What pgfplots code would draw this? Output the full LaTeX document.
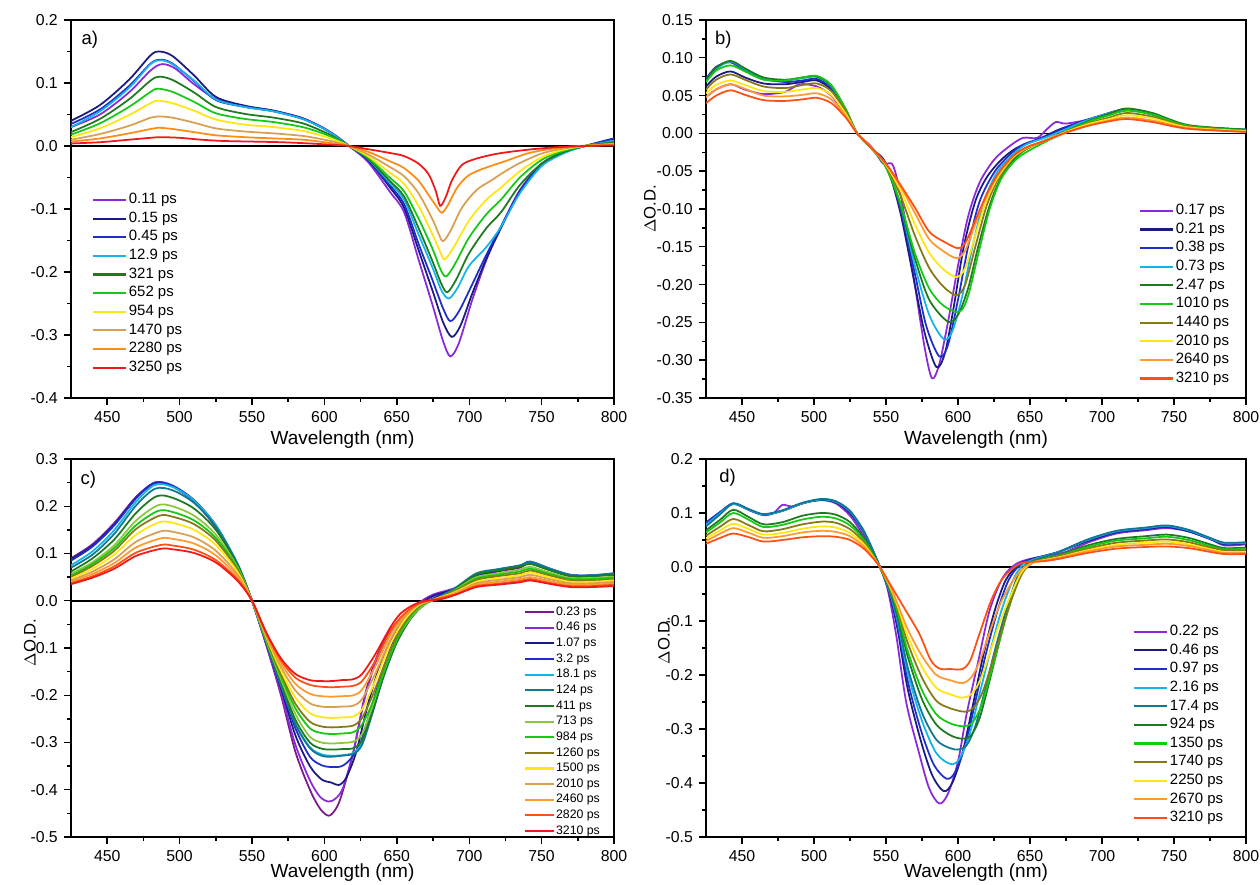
\documentclass[border=0pt]{standalone}
\usepackage{fontspec}
\setmainfont{Liberation Sans}
\usepackage{pgfplots}
\pgfplotsset{compat=1.18}

\definecolor{cPurple}{HTML}{8C28DC}
\definecolor{cPlum}{HTML}{7A1A8A}
\definecolor{cNavy}{HTML}{1A1A80}
\definecolor{cBlue}{HTML}{1E2EC8}
\definecolor{cCyan}{HTML}{14B4E6}
\definecolor{cTeal}{HTML}{107890}
\definecolor{cDkGreen}{HTML}{1E7A1E}
\definecolor{cGreen}{HTML}{14C814}
\definecolor{cYG}{HTML}{8CC83C}
\definecolor{cOlive}{HTML}{857A14}
\definecolor{cYellow}{HTML}{FFE610}
\definecolor{cTan}{HTML}{D8A050}
\definecolor{cOrange}{HTML}{FF8C14}
\definecolor{cOrange2}{HTML}{FF9A30}
\definecolor{cRedOr}{HTML}{FF5014}
\definecolor{cRed}{HTML}{F01818}

\tikzset{plabel/.style={anchor=west, inner sep=0pt, font=\fontsize{10.5}{12}\selectfont}}

\pgfplotsset{
  panel/.style={
    scale only axis,
    xmin=425, xmax=800,
    xtick={450,500,550,600,650,700,750,800},
    minor x tick num=1,
    minor y tick num=1,
    tick align=outside,
    tick pos=left,
    major tick length=0.14cm,
    minor tick length=0.08cm,
    axis line style={line width=0.8pt},
    every tick/.style={black, line width=0.8pt},
    tick label style={font=\fontsize{9}{10}\selectfont},
    xlabel={Wavelength (nm)},
    xlabel style={font=\fontsize{10.8}{12}\selectfont, at={(rel axis cs:0.5,0)}, anchor=center, yshift=-0.84cm},
    ylabel style={font=\fontsize{9.5}{11}\selectfont},
    legend style={draw=none, fill=none, anchor=north west,
      font=\fontsize{8.5}{10}\selectfont, row sep=2.5pt, column sep=0.04cm,
      nodes={inner sep=0pt, text height=6.2pt, text depth=1.9pt}},
    legend cell align=left,
    legend image code/.code={\draw[##1, line width=1.2pt] (0cm,0cm) -- (0.66cm,0cm);},
    every axis plot/.append style={line width=1pt, smooth},
    /pgf/number format/assume math mode=true,
  },
}

\begin{document}
\begin{tikzpicture}

% ---------------- a) ----------------
\begin{axis}[panel, at={(1.42cm,9.74cm)}, anchor=south west,
  width=10.86cm, height=7.56cm,
  ymin=-0.4, ymax=0.2,
  ytick={-0.4,-0.3,-0.2,-0.1,0,0.1,0.2},
  yticklabels={-0.4,-0.3,-0.2,-0.1,0.0,0.1,0.2},
  legend style={at={(0.028,0.553)}}]
\addplot[black, line width=0.9pt, forget plot] coordinates {(425,0) (800,0)};
\addplot[cPurple] coordinates {(425,0.030)(445,0.050)(465,0.085)(480,0.120)(488,0.130)(497,0.123)(510,0.098)(525,0.075)(545,0.063)(565,0.056)(585,0.044)(600,0.028)(610,0.013)(617,0.0)(630,-0.025)(645,-0.072)(655,-0.105)(665,-0.180)(675,-0.255)(682,-0.310)(687,-0.334)(693,-0.312)(702,-0.245)(712,-0.180)(722,-0.128)(735,-0.070)(750,-0.028)(765,-0.010)(780,0.0)(800,0.008)};
\addlegendentry{0.11 ps}
\addplot[cNavy] coordinates {(425,0.040)(445,0.065)(465,0.105)(480,0.144)(486,0.150)(495,0.143)(510,0.112)(525,0.078)(545,0.064)(565,0.056)(585,0.044)(600,0.027)(610,0.012)(617,0.0)(630,-0.022)(645,-0.065)(655,-0.098)(665,-0.165)(675,-0.232)(682,-0.280)(688,-0.303)(694,-0.285)(702,-0.235)(712,-0.178)(722,-0.130)(735,-0.072)(750,-0.030)(765,-0.010)(780,0.0)(800,0.012)};
\addlegendentry{0.15 ps}
\addplot[cBlue] coordinates {(425,0.035)(445,0.058)(465,0.095)(480,0.131)(487,0.137)(495,0.131)(510,0.103)(525,0.073)(545,0.062)(565,0.055)(585,0.043)(600,0.027)(610,0.012)(617,0.0)(630,-0.022)(645,-0.062)(655,-0.092)(665,-0.155)(675,-0.215)(682,-0.258)(687,-0.278)(693,-0.262)(702,-0.220)(712,-0.172)(722,-0.128)(735,-0.072)(750,-0.030)(765,-0.010)(780,0.0)(800,0.012)};
\addlegendentry{0.45 ps}
\addplot[cCyan] coordinates {(425,0.030)(445,0.055)(465,0.092)(480,0.130)(487,0.136)(495,0.130)(510,0.104)(525,0.074)(545,0.062)(565,0.055)(585,0.043)(600,0.027)(610,0.012)(617,0.0)(630,-0.020)(645,-0.058)(655,-0.085)(665,-0.140)(675,-0.195)(681,-0.230)(686,-0.242)(692,-0.225)(700,-0.190)(712,-0.160)(722,-0.128)(735,-0.075)(750,-0.032)(765,-0.012)(780,0.0)(800,0.008)};
\addlegendentry{12.9 ps}
\addplot[cDkGreen] coordinates {(425,0.022)(445,0.043)(465,0.074)(480,0.104)(486,0.110)(495,0.105)(510,0.085)(525,0.062)(545,0.051)(565,0.045)(585,0.036)(600,0.022)(610,0.010)(617,0.0)(630,-0.020)(645,-0.055)(655,-0.080)(665,-0.130)(675,-0.185)(681,-0.220)(685,-0.232)(691,-0.212)(700,-0.170)(712,-0.130)(722,-0.105)(735,-0.062)(750,-0.028)(765,-0.010)(780,0.0)(800,0.006)};
\addlegendentry{321 ps}
\addplot[cGreen] coordinates {(425,0.018)(445,0.036)(465,0.062)(480,0.086)(485,0.091)(495,0.086)(510,0.070)(525,0.052)(545,0.043)(565,0.038)(585,0.030)(600,0.019)(610,0.009)(617,0.0)(630,-0.018)(645,-0.050)(655,-0.072)(665,-0.115)(675,-0.165)(680,-0.195)(684,-0.207)(690,-0.188)(700,-0.145)(712,-0.108)(722,-0.085)(735,-0.050)(750,-0.022)(765,-0.008)(780,0.0)(800,0.004)};
\addlegendentry{652 ps}
\addplot[cYellow] coordinates {(425,0.014)(445,0.028)(465,0.049)(480,0.068)(485,0.072)(495,0.068)(510,0.056)(525,0.042)(545,0.034)(565,0.030)(585,0.024)(600,0.015)(610,0.007)(617,0.0)(630,-0.016)(645,-0.042)(655,-0.060)(665,-0.095)(675,-0.142)(680,-0.168)(683,-0.180)(689,-0.162)(700,-0.118)(712,-0.085)(722,-0.066)(735,-0.040)(750,-0.018)(765,-0.006)(780,0.0)(800,0.003)};
\addlegendentry{954 ps}
\addplot[cTan] coordinates {(425,0.010)(445,0.019)(465,0.032)(480,0.045)(485,0.047)(495,0.045)(510,0.037)(525,0.028)(545,0.023)(565,0.020)(585,0.016)(600,0.010)(610,0.005)(617,0.0)(630,-0.013)(645,-0.033)(655,-0.048)(665,-0.075)(675,-0.118)(679,-0.140)(682,-0.151)(687,-0.135)(695,-0.098)(705,-0.070)(715,-0.055)(725,-0.040)(735,-0.027)(750,-0.012)(765,-0.004)(780,0.0)(800,0.002)};
\addlegendentry{1470 ps}
\addplot[cOrange] coordinates {(425,0.007)(445,0.012)(465,0.020)(480,0.027)(485,0.029)(495,0.027)(510,0.022)(525,0.017)(545,0.014)(565,0.012)(585,0.010)(600,0.006)(610,0.003)(617,0.0)(630,-0.009)(645,-0.024)(655,-0.035)(665,-0.055)(672,-0.078)(678,-0.098)(681,-0.106)(685,-0.095)(692,-0.065)(700,-0.046)(712,-0.034)(725,-0.024)(740,-0.012)(755,-0.005)(775,0.0)(800,0.002)};
\addlegendentry{2280 ps}
\addplot[cRed] coordinates {(425,0.004)(445,0.006)(465,0.010)(480,0.013)(487,0.014)(500,0.013)(515,0.010)(530,0.008)(550,0.007)(570,0.006)(590,0.004)(605,0.002)(617,0.0)(630,-0.005)(645,-0.011)(655,-0.016)(665,-0.028)(672,-0.045)(677,-0.072)(680,-0.095)(684,-0.080)(688,-0.055)(695,-0.030)(705,-0.020)(720,-0.012)(740,-0.006)(760,-0.002)(780,0.0)(800,0.001)};
\addlegendentry{3250 ps}
\node[plabel] at (rel axis cs:0.019,0.947) {a)};
\end{axis}

% ---------------- b) ----------------
\begin{axis}[panel, at={(14.12cm,9.74cm)}, anchor=south west,
  width=10.8cm, height=7.56cm,
  ymin=-0.35, ymax=0.15,
  ytick={-0.35,-0.3,-0.25,-0.2,-0.15,-0.1,-0.05,0,0.05,0.1,0.15},
  yticklabels={-0.35,-0.30,-0.25,-0.20,-0.15,-0.10,-0.05,0.00,0.05,0.10,0.15},
  ylabel={$\Delta$O.D.}, ylabel style={at={(rel axis cs:-0.104,0.5)}, anchor=center},
  legend style={at={(0.791,0.524)}}]
\addplot[black, line width=0.9pt, forget plot] coordinates {(425,0) (800,0)};
\addplot[cPurple] coordinates {(425,0.048)(432,0.058)(442,0.065)(452,0.058)(465,0.052)(480,0.055)(490,0.065)(502,0.062)(512,0.050)(522,0.025)(530,0.0)(540,-0.018)(548,-0.040)(555,-0.043)(562,-0.100)(570,-0.200)(577,-0.285)(582,-0.324)(587,-0.305)(593,-0.250)(600,-0.175)(607,-0.110)(615,-0.065)(625,-0.035)(635,-0.018)(645,-0.006)(655,-0.006)(662,0.006)(668,0.015)(675,0.013)(690,0.018)(705,0.025)(717,0.032)(735,0.025)(760,0.010)(800,0.004)};
\addlegendentry{0.17 ps}
\addplot[cNavy] coordinates {(425,0.062)(432,0.075)(442,0.082)(452,0.074)(465,0.066)(480,0.065)(492,0.068)(502,0.070)(512,0.058)(522,0.030)(530,0.0)(540,-0.020)(550,-0.040)(560,-0.105)(570,-0.200)(577,-0.265)(585,-0.309)(591,-0.290)(597,-0.230)(604,-0.150)(612,-0.090)(620,-0.058)(630,-0.035)(640,-0.020)(650,-0.012)(660,-0.004)(670,0.005)(685,0.015)(700,0.024)(717,0.032)(735,0.025)(760,0.010)(800,0.005)};
\addlegendentry{0.21 ps}
\addplot[cBlue] coordinates {(425,0.072)(432,0.088)(442,0.094)(452,0.083)(465,0.072)(480,0.068)(492,0.070)(502,0.072)(512,0.060)(522,0.030)(530,0.0)(540,-0.020)(550,-0.042)(560,-0.100)(570,-0.185)(578,-0.255)(587,-0.295)(593,-0.280)(600,-0.220)(607,-0.150)(615,-0.090)(625,-0.052)(635,-0.030)(645,-0.015)(660,-0.005)(670,0.004)(685,0.015)(700,0.024)(717,0.032)(735,0.025)(760,0.010)(800,0.005)};
\addlegendentry{0.38 ps}
\addplot[cCyan] coordinates {(425,0.068)(432,0.085)(442,0.095)(452,0.085)(465,0.073)(480,0.070)(492,0.073)(502,0.075)(512,0.062)(522,0.031)(530,0.0)(540,-0.020)(550,-0.042)(560,-0.095)(570,-0.175)(580,-0.240)(590,-0.272)(596,-0.262)(603,-0.215)(610,-0.150)(618,-0.090)(627,-0.052)(637,-0.030)(647,-0.015)(660,-0.006)(672,0.003)(685,0.014)(700,0.024)(717,0.031)(735,0.025)(760,0.010)(800,0.005)};
\addlegendentry{0.73 ps}
\addplot[cDkGreen] coordinates {(425,0.070)(432,0.087)(442,0.096)(452,0.086)(465,0.074)(480,0.071)(492,0.074)(502,0.075)(512,0.063)(522,0.032)(530,0.0)(540,-0.020)(550,-0.045)(560,-0.095)(570,-0.165)(580,-0.220)(593,-0.249)(600,-0.240)(607,-0.205)(614,-0.150)(622,-0.095)(630,-0.058)(640,-0.032)(650,-0.018)(662,-0.008)(675,0.003)(690,0.016)(705,0.026)(717,0.033)(735,0.027)(760,0.011)(800,0.005)};
\addlegendentry{2.47 ps}
\addplot[cGreen] coordinates {(425,0.068)(432,0.083)(442,0.090)(452,0.082)(465,0.071)(480,0.070)(492,0.074)(502,0.076)(512,0.064)(522,0.032)(530,0.0)(540,-0.020)(550,-0.045)(560,-0.092)(570,-0.158)(580,-0.205)(590,-0.228)(601,-0.236)(607,-0.215)(614,-0.160)(622,-0.100)(630,-0.060)(640,-0.035)(650,-0.022)(662,-0.010)(675,0.002)(690,0.015)(705,0.024)(717,0.030)(735,0.025)(760,0.010)(800,0.004)};
\addlegendentry{1010 ps}
\addplot[cOlive] coordinates {(425,0.058)(432,0.071)(442,0.078)(452,0.071)(465,0.062)(480,0.060)(492,0.064)(502,0.066)(512,0.056)(522,0.029)(530,0.0)(540,-0.020)(550,-0.043)(560,-0.082)(570,-0.135)(580,-0.178)(590,-0.203)(599,-0.214)(605,-0.200)(612,-0.150)(620,-0.095)(628,-0.060)(638,-0.033)(648,-0.020)(660,-0.010)(675,0.002)(690,0.013)(705,0.021)(717,0.027)(735,0.022)(760,0.009)(800,0.003)};
\addlegendentry{1440 ps}
\addplot[cYellow] coordinates {(425,0.053)(432,0.064)(442,0.070)(452,0.064)(465,0.056)(480,0.055)(492,0.058)(502,0.060)(512,0.051)(522,0.026)(530,0.0)(540,-0.019)(550,-0.042)(560,-0.075)(570,-0.120)(580,-0.158)(590,-0.180)(599,-0.190)(605,-0.178)(612,-0.135)(620,-0.088)(628,-0.057)(638,-0.032)(648,-0.019)(660,-0.010)(675,0.002)(690,0.012)(705,0.019)(717,0.024)(735,0.020)(760,0.008)(800,0.003)};
\addlegendentry{2010 ps}
\addplot[cOrange2] coordinates {(425,0.048)(432,0.058)(442,0.065)(452,0.059)(465,0.050)(480,0.049)(492,0.051)(502,0.053)(512,0.045)(522,0.023)(530,0.0)(540,-0.019)(550,-0.041)(560,-0.070)(570,-0.105)(580,-0.140)(590,-0.156)(599,-0.165)(605,-0.155)(612,-0.120)(620,-0.082)(628,-0.054)(638,-0.031)(648,-0.018)(660,-0.010)(675,0.001)(690,0.010)(705,0.017)(717,0.021)(735,0.017)(760,0.007)(800,0.002)};
\addlegendentry{2640 ps}
\addplot[cRedOr] coordinates {(425,0.040)(432,0.050)(442,0.057)(452,0.051)(465,0.044)(480,0.043)(492,0.045)(502,0.047)(512,0.040)(522,0.021)(530,0.0)(540,-0.019)(550,-0.040)(560,-0.068)(570,-0.098)(580,-0.130)(590,-0.143)(600,-0.152)(605,-0.145)(612,-0.115)(620,-0.080)(628,-0.053)(638,-0.030)(648,-0.018)(660,-0.010)(675,0.001)(690,0.010)(705,0.016)(717,0.019)(735,0.015)(760,0.006)(800,0.002)};
\addlegendentry{3210 ps}
\node[plabel] at (rel axis cs:0.016,0.947) {b)};
\end{axis}

% ---------------- c) ----------------
\begin{axis}[panel, at={(1.42cm,0.96cm)}, anchor=south west,
  width=10.86cm, height=7.56cm,
  ymin=-0.5, ymax=0.3,
  ytick={-0.5,-0.4,-0.3,-0.2,-0.1,0,0.1,0.2,0.3},
  yticklabels={-0.5,-0.4,-0.3,-0.2,-0.1,0.0,0.1,0.2,0.3},
  xlabel style={yshift=0.12cm},
  ylabel={$\Delta$O.D.}, ylabel style={at={(rel axis cs:-0.0755,0.515)}, anchor=center},
  legend style={at={(0.823,0.621)}, font=\fontsize{7}{8}\selectfont, row sep=2.1pt, column sep=0.03cm,
    nodes={inner sep=0pt, text height=5.2pt, text depth=1.6pt}},
  legend image code/.code={\draw[#1, line width=1.2pt] (0cm,0cm) -- (0.58cm,0cm);}]
\addplot[black, line width=0.9pt, forget plot] coordinates {(425,0) (800,0)};
\addplot[cPlum] coordinates {(425,0.090)(440,0.120)(455,0.165)(470,0.220)(483,0.250)(495,0.242)(510,0.210)(525,0.155)(540,0.075)(550,0.0)(560,-0.095)(570,-0.200)(580,-0.320)(590,-0.400)(597,-0.440)(603,-0.455)(608,-0.440)(612,-0.410)(620,-0.320)(628,-0.200)(636,-0.120)(645,-0.065)(655,-0.030)(665,-0.006)(675,0.012)(690,0.025)(705,0.050)(720,0.062)(735,0.070)(742,0.080)(755,0.066)(770,0.052)(785,0.052)(800,0.056)};
\addlegendentry{0.23 ps}
\addplot[cPurple] coordinates {(425,0.088)(440,0.118)(455,0.163)(470,0.218)(483,0.249)(495,0.242)(510,0.210)(525,0.155)(540,0.075)(550,0.0)(560,-0.095)(570,-0.195)(580,-0.305)(590,-0.380)(597,-0.415)(603,-0.425)(608,-0.418)(613,-0.395)(620,-0.320)(628,-0.205)(636,-0.125)(645,-0.068)(655,-0.032)(665,-0.005)(675,0.013)(690,0.027)(705,0.052)(720,0.064)(735,0.072)(742,0.082)(755,0.068)(770,0.054)(785,0.053)(800,0.057)};
\addlegendentry{0.46 ps}
\addplot[cNavy] coordinates {(425,0.088)(440,0.117)(455,0.162)(470,0.218)(483,0.250)(495,0.243)(510,0.212)(525,0.158)(540,0.077)(550,0.0)(560,-0.092)(570,-0.185)(580,-0.285)(590,-0.350)(598,-0.378)(605,-0.385)(610,-0.390)(615,-0.375)(622,-0.320)(630,-0.220)(638,-0.140)(645,-0.090)(655,-0.042)(665,-0.010)(675,0.010)(690,0.025)(705,0.052)(720,0.064)(735,0.072)(742,0.082)(755,0.068)(770,0.054)(785,0.053)(800,0.057)};
\addlegendentry{1.07 ps}
\addplot[cBlue] coordinates {(425,0.085)(440,0.115)(455,0.160)(470,0.217)(483,0.250)(495,0.244)(510,0.213)(525,0.160)(540,0.078)(550,0.0)(560,-0.090)(570,-0.180)(580,-0.270)(590,-0.330)(598,-0.348)(605,-0.352)(612,-0.350)(618,-0.335)(625,-0.300)(632,-0.230)(640,-0.150)(648,-0.085)(657,-0.042)(667,-0.010)(677,0.008)(690,0.025)(705,0.055)(720,0.066)(735,0.074)(742,0.083)(755,0.069)(770,0.055)(785,0.054)(800,0.058)};
\addlegendentry{3.2 ps}
\addplot[cCyan] coordinates {(425,0.075)(440,0.105)(455,0.150)(470,0.210)(483,0.245)(495,0.241)(510,0.212)(525,0.160)(540,0.078)(550,0.0)(560,-0.090)(570,-0.178)(580,-0.260)(590,-0.310)(598,-0.325)(605,-0.328)(612,-0.327)(620,-0.322)(626,-0.300)(633,-0.235)(641,-0.155)(650,-0.085)(660,-0.035)(670,-0.005)(680,0.008)(690,0.026)(705,0.056)(720,0.066)(735,0.074)(742,0.082)(755,0.068)(770,0.054)(785,0.053)(800,0.057)};
\addlegendentry{18.1 ps}
\addplot[cTeal] coordinates {(425,0.070)(440,0.098)(455,0.142)(470,0.202)(483,0.237)(495,0.234)(510,0.207)(525,0.157)(540,0.077)(550,0.0)(560,-0.090)(570,-0.178)(580,-0.262)(590,-0.312)(598,-0.328)(605,-0.330)(612,-0.328)(620,-0.324)(626,-0.305)(633,-0.240)(641,-0.160)(650,-0.088)(660,-0.036)(670,-0.006)(680,0.007)(690,0.026)(705,0.058)(720,0.067)(735,0.075)(742,0.082)(755,0.068)(770,0.054)(785,0.054)(800,0.058)};
\addlegendentry{124 ps}
\addplot[cDkGreen] coordinates {(425,0.062)(440,0.090)(455,0.130)(470,0.186)(484,0.221)(495,0.218)(510,0.195)(525,0.150)(540,0.075)(550,0.0)(560,-0.088)(570,-0.172)(580,-0.252)(590,-0.300)(598,-0.313)(605,-0.315)(612,-0.314)(620,-0.312)(626,-0.295)(633,-0.235)(641,-0.158)(650,-0.088)(660,-0.036)(670,-0.006)(680,0.006)(690,0.024)(705,0.055)(720,0.064)(735,0.072)(742,0.078)(755,0.065)(770,0.052)(785,0.052)(800,0.055)};
\addlegendentry{411 ps}
\addplot[cYG] coordinates {(425,0.057)(440,0.082)(455,0.118)(470,0.170)(485,0.202)(495,0.200)(510,0.180)(525,0.140)(540,0.071)(550,0.0)(560,-0.086)(570,-0.166)(580,-0.240)(590,-0.288)(598,-0.300)(605,-0.302)(612,-0.301)(620,-0.298)(626,-0.282)(633,-0.225)(641,-0.150)(650,-0.082)(660,-0.034)(670,-0.006)(680,0.006)(690,0.022)(705,0.050)(720,0.058)(735,0.066)(742,0.072)(755,0.060)(770,0.048)(785,0.048)(800,0.051)};
\addlegendentry{713 ps}
\addplot[cGreen] coordinates {(425,0.053)(440,0.078)(455,0.112)(470,0.160)(485,0.190)(495,0.188)(510,0.170)(525,0.133)(540,0.068)(550,0.0)(560,-0.083)(570,-0.160)(580,-0.228)(590,-0.270)(598,-0.280)(605,-0.282)(612,-0.281)(620,-0.278)(626,-0.262)(634,-0.210)(645,-0.118)(655,-0.053)(665,-0.014)(675,0.002)(690,0.021)(705,0.047)(720,0.055)(735,0.062)(742,0.068)(755,0.057)(770,0.046)(785,0.046)(800,0.049)};
\addlegendentry{984 ps}
\addplot[cOlive] coordinates {(425,0.050)(440,0.074)(455,0.106)(470,0.152)(486,0.180)(495,0.178)(510,0.162)(525,0.127)(540,0.065)(550,0.0)(560,-0.081)(570,-0.155)(580,-0.218)(590,-0.256)(598,-0.266)(605,-0.268)(612,-0.267)(620,-0.264)(626,-0.248)(634,-0.195)(645,-0.108)(655,-0.048)(665,-0.012)(675,0.002)(690,0.020)(705,0.044)(720,0.052)(735,0.058)(742,0.064)(755,0.054)(770,0.043)(785,0.043)(800,0.046)};
\addlegendentry{1260 ps}
\addplot[cYellow] coordinates {(425,0.047)(440,0.068)(455,0.098)(470,0.140)(486,0.166)(495,0.165)(510,0.150)(525,0.118)(540,0.061)(550,0.0)(560,-0.078)(570,-0.148)(580,-0.205)(590,-0.238)(598,-0.246)(605,-0.248)(612,-0.247)(620,-0.245)(626,-0.230)(634,-0.178)(645,-0.095)(655,-0.042)(665,-0.010)(675,0.002)(690,0.018)(705,0.040)(720,0.048)(735,0.054)(742,0.060)(755,0.050)(770,0.040)(785,0.040)(800,0.043)};
\addlegendentry{1500 ps}
\addplot[cTan] coordinates {(425,0.043)(440,0.062)(455,0.088)(470,0.125)(487,0.147)(495,0.146)(510,0.134)(525,0.106)(540,0.055)(550,0.0)(560,-0.075)(570,-0.140)(580,-0.190)(590,-0.217)(598,-0.224)(605,-0.225)(612,-0.224)(620,-0.222)(626,-0.208)(635,-0.155)(646,-0.080)(655,-0.036)(665,-0.008)(675,0.002)(690,0.016)(705,0.037)(720,0.044)(735,0.050)(742,0.055)(755,0.046)(770,0.037)(785,0.037)(800,0.040)};
\addlegendentry{2010 ps}
\addplot[cOrange2] coordinates {(425,0.040)(440,0.057)(455,0.080)(470,0.113)(487,0.132)(495,0.131)(510,0.121)(525,0.096)(540,0.050)(550,0.0)(560,-0.072)(570,-0.132)(580,-0.176)(590,-0.197)(598,-0.202)(605,-0.203)(612,-0.202)(620,-0.200)(626,-0.188)(635,-0.140)(646,-0.070)(655,-0.032)(665,-0.007)(675,0.002)(690,0.015)(705,0.034)(720,0.040)(735,0.046)(742,0.050)(755,0.042)(770,0.034)(785,0.034)(800,0.037)};
\addlegendentry{2460 ps}
\addplot[cRedOr] coordinates {(425,0.037)(440,0.052)(455,0.073)(470,0.102)(487,0.118)(495,0.117)(510,0.108)(525,0.086)(540,0.045)(550,0.0)(560,-0.070)(570,-0.126)(580,-0.163)(590,-0.178)(598,-0.182)(605,-0.183)(612,-0.182)(620,-0.180)(626,-0.170)(635,-0.128)(646,-0.062)(655,-0.028)(665,-0.006)(675,0.002)(690,0.013)(705,0.031)(720,0.036)(735,0.042)(742,0.046)(755,0.038)(770,0.031)(785,0.031)(800,0.034)};
\addlegendentry{2820 ps}
\addplot[cRed] coordinates {(425,0.035)(440,0.049)(455,0.068)(470,0.095)(487,0.110)(495,0.109)(510,0.101)(525,0.081)(540,0.042)(550,0.0)(560,-0.068)(570,-0.122)(580,-0.155)(590,-0.168)(598,-0.170)(605,-0.170)(612,-0.168)(620,-0.166)(626,-0.155)(635,-0.114)(646,-0.054)(653,-0.026)(662,-0.008)(670,0.0)(680,0.003)(690,0.012)(705,0.029)(720,0.034)(735,0.039)(742,0.043)(755,0.036)(770,0.029)(785,0.029)(800,0.031)};
\addlegendentry{3210 ps}
\node[plabel] at (rel axis cs:0.017,0.944) {c)};
\end{axis}

% ---------------- d) ----------------
\begin{axis}[panel, at={(14.12cm,0.96cm)}, anchor=south west,
  width=10.8cm, height=7.56cm,
  ymin=-0.5, ymax=0.2,
  ytick={-0.5,-0.4,-0.3,-0.2,-0.1,0,0.1,0.2},
  yticklabels={-0.5,-0.4,-0.3,-0.2,-0.1,0.0,0.1,0.2},
  xlabel style={yshift=0.12cm},
  ylabel={$\Delta$O.D.}, ylabel style={at={(rel axis cs:-0.078,0.52)}, anchor=center},
  legend style={at={(0.780,0.572)}}]
\addplot[black, line width=0.9pt, forget plot] coordinates {(425,0) (800,0)};
\addplot[cPurple] coordinates {(425,0.080)(435,0.100)(444,0.117)(455,0.105)(465,0.096)(472,0.100)(478,0.115)(485,0.112)(495,0.120)(505,0.124)(515,0.118)(525,0.095)(535,0.055)(545,0.005)(551,-0.040)(557,-0.125)(564,-0.250)(573,-0.345)(580,-0.410)(587,-0.438)(593,-0.420)(600,-0.360)(606,-0.272)(614,-0.175)(622,-0.080)(631,-0.020)(640,0.005)(650,0.015)(665,0.022)(675,0.028)(690,0.045)(710,0.062)(730,0.068)(745,0.072)(760,0.066)(775,0.052)(785,0.040)(800,0.042)};
\addlegendentry{0.22 ps}
\addplot[cNavy] coordinates {(425,0.082)(435,0.102)(444,0.117)(455,0.106)(465,0.097)(478,0.104)(492,0.118)(505,0.124)(515,0.120)(525,0.100)(535,0.062)(545,0.005)(552,-0.045)(558,-0.115)(565,-0.225)(574,-0.320)(582,-0.385)(590,-0.415)(596,-0.400)(603,-0.345)(610,-0.260)(617,-0.170)(625,-0.085)(633,-0.025)(642,0.004)(652,0.015)(670,0.028)(690,0.048)(710,0.064)(730,0.070)(745,0.074)(760,0.066)(775,0.052)(785,0.042)(800,0.044)};
\addlegendentry{0.46 ps}
\addplot[cBlue] coordinates {(425,0.082)(435,0.102)(444,0.118)(455,0.106)(465,0.097)(478,0.104)(492,0.118)(505,0.125)(515,0.121)(525,0.102)(535,0.063)(545,0.005)(552,-0.043)(558,-0.108)(565,-0.210)(574,-0.300)(583,-0.365)(592,-0.392)(598,-0.380)(605,-0.330)(612,-0.250)(619,-0.165)(627,-0.085)(635,-0.025)(643,0.004)(652,0.015)(670,0.028)(690,0.050)(710,0.065)(730,0.071)(745,0.075)(760,0.067)(775,0.052)(785,0.043)(800,0.044)};
\addlegendentry{0.97 ps}
\addplot[cCyan] coordinates {(425,0.078)(435,0.100)(444,0.117)(455,0.106)(465,0.097)(478,0.104)(492,0.118)(505,0.125)(515,0.121)(525,0.103)(535,0.064)(545,0.005)(552,-0.042)(558,-0.100)(565,-0.195)(575,-0.285)(585,-0.345)(595,-0.365)(601,-0.355)(608,-0.310)(615,-0.235)(622,-0.160)(630,-0.082)(638,-0.025)(645,0.004)(655,0.016)(670,0.028)(690,0.050)(710,0.066)(730,0.072)(745,0.076)(760,0.068)(775,0.053)(785,0.044)(800,0.045)};
\addlegendentry{2.16 ps}
\addplot[cTeal] coordinates {(425,0.075)(435,0.098)(444,0.118)(455,0.107)(465,0.098)(478,0.105)(492,0.119)(505,0.126)(515,0.122)(525,0.104)(535,0.065)(545,0.005)(552,-0.040)(558,-0.095)(565,-0.185)(575,-0.270)(585,-0.320)(594,-0.335)(600,-0.338)(606,-0.330)(612,-0.295)(619,-0.225)(626,-0.150)(634,-0.075)(641,-0.020)(648,0.006)(658,0.017)(670,0.028)(690,0.051)(710,0.067)(730,0.073)(745,0.077)(760,0.069)(775,0.054)(785,0.045)(800,0.046)};
\addlegendentry{17.4 ps}
\addplot[cDkGreen] coordinates {(425,0.068)(435,0.088)(444,0.106)(455,0.092)(465,0.079)(478,0.083)(492,0.095)(505,0.100)(515,0.097)(525,0.083)(535,0.052)(545,0.003)(552,-0.038)(558,-0.088)(565,-0.165)(575,-0.245)(585,-0.292)(595,-0.312)(603,-0.318)(609,-0.312)(615,-0.280)(622,-0.210)(629,-0.135)(636,-0.065)(643,-0.015)(650,0.008)(660,0.016)(670,0.022)(690,0.040)(710,0.052)(730,0.057)(745,0.060)(760,0.054)(775,0.042)(785,0.035)(800,0.036)};
\addlegendentry{924 ps}
\addplot[cGreen] coordinates {(425,0.064)(435,0.083)(444,0.100)(455,0.087)(465,0.074)(478,0.078)(492,0.088)(505,0.093)(515,0.090)(525,0.077)(535,0.049)(545,0.003)(552,-0.036)(558,-0.083)(565,-0.155)(575,-0.228)(585,-0.273)(595,-0.290)(604,-0.295)(610,-0.288)(616,-0.258)(623,-0.195)(630,-0.125)(637,-0.060)(644,-0.012)(651,0.008)(660,0.015)(670,0.021)(690,0.037)(710,0.049)(730,0.053)(745,0.056)(760,0.050)(775,0.039)(785,0.033)(800,0.034)};
\addlegendentry{1350 ps}
\addplot[cOlive] coordinates {(425,0.058)(435,0.075)(444,0.089)(455,0.077)(465,0.066)(478,0.070)(492,0.079)(505,0.084)(515,0.082)(525,0.070)(535,0.045)(545,0.003)(552,-0.034)(558,-0.077)(565,-0.140)(575,-0.205)(585,-0.248)(595,-0.262)(605,-0.268)(611,-0.260)(617,-0.232)(624,-0.175)(631,-0.112)(638,-0.054)(645,-0.010)(652,0.008)(660,0.014)(670,0.020)(690,0.034)(710,0.045)(730,0.049)(745,0.051)(760,0.046)(775,0.036)(785,0.031)(800,0.031)};
\addlegendentry{1740 ps}
\addplot[cYellow] coordinates {(425,0.053)(435,0.068)(444,0.080)(455,0.070)(465,0.060)(478,0.063)(492,0.071)(505,0.075)(515,0.073)(525,0.063)(535,0.041)(545,0.003)(552,-0.032)(558,-0.072)(565,-0.128)(575,-0.185)(585,-0.224)(595,-0.236)(603,-0.242)(609,-0.236)(615,-0.212)(622,-0.160)(629,-0.103)(637,-0.050)(644,-0.010)(651,0.007)(660,0.013)(670,0.018)(690,0.031)(710,0.041)(730,0.045)(745,0.047)(760,0.042)(775,0.033)(785,0.028)(800,0.028)};
\addlegendentry{2250 ps}
\addplot[cOrange2] coordinates {(425,0.048)(435,0.062)(444,0.072)(455,0.063)(465,0.054)(478,0.057)(492,0.064)(505,0.067)(515,0.065)(525,0.057)(535,0.037)(545,0.003)(552,-0.030)(558,-0.068)(565,-0.115)(575,-0.165)(585,-0.200)(595,-0.210)(603,-0.215)(609,-0.205)(615,-0.175)(622,-0.120)(629,-0.070)(637,-0.030)(644,-0.005)(651,0.007)(660,0.012)(670,0.017)(690,0.029)(710,0.038)(730,0.041)(745,0.043)(760,0.039)(775,0.031)(785,0.026)(800,0.026)};
\addlegendentry{2670 ps}
\addplot[cRedOr] coordinates {(425,0.043)(435,0.054)(444,0.062)(455,0.055)(465,0.047)(478,0.050)(492,0.055)(505,0.057)(515,0.056)(525,0.050)(535,0.033)(545,0.003)(552,-0.028)(562,-0.073)(573,-0.123)(581,-0.172)(587,-0.188)(595,-0.189)(601,-0.190)(605,-0.186)(609,-0.170)(615,-0.123)(623,-0.062)(630,-0.025)(637,-0.005)(645,0.008)(660,0.011)(670,0.015)(690,0.026)(710,0.034)(730,0.037)(745,0.038)(760,0.035)(775,0.028)(785,0.024)(800,0.024)};
\addlegendentry{3210 ps}
\node[plabel] at (rel axis cs:0.024,0.95) {d)};
\end{axis}

\pgfresetboundingbox
\path[use as bounding box] (0,0) rectangle (25.2cm,17.7cm);
\end{tikzpicture}
\end{document}
